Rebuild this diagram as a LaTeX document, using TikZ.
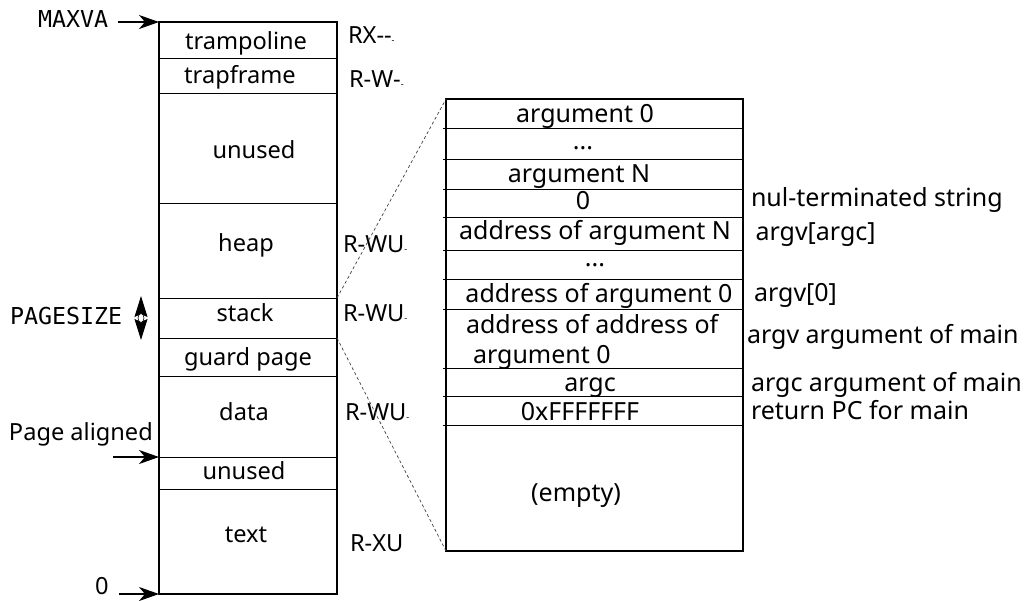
\documentclass[tikz,border=0pt]{standalone}
\usepackage{fontspec}
\setmainfont{Noto Sans}
\setmonofont{DejaVu Sans Mono}
\usetikzlibrary{arrows.meta}
\newcommand{\tinydash}{{\fontsize{9}{9}\selectfont -}}
\begin{document}
\begin{tikzpicture}[x=1pt,y=-1pt,
  every node/.style={inner sep=0pt, outer sep=0pt},
  font=\fontsize{23.6}{28}\selectfont,
  big/.style={font=\fontsize{25}{30}\selectfont},
  txt/.style={anchor=base},
  lbl/.style={anchor=base west},
  boxline/.style={line width=1.3pt},
  divline/.style={line width=0.9pt},
  arr/.style={line width=1.2pt, -{Stealth[length=20pt,width=14pt,inset=6pt]}},
  zoomline/.style={line width=0.7pt, dash pattern=on 3pt off 2.5pt, black!75}]
\useasboundingbox (0,0) rectangle (1024,600);

% left box
\coordinate (LT) at (159,22);
\coordinate (LB) at (159,594);
\coordinate (RB) at (337,594);
\coordinate (PA) at (159,457);
\coordinate (stackTR) at (337,298);
\coordinate (stackBR) at (337,338);
\draw[boxline] (LT) rectangle (RB);
\foreach \y in {58,93,203,298,338,376,457,489}
  \draw[divline] (159,\y) -- (337,\y);

\node[txt] (tramp) at (246,49.5) {trampoline};
\node[txt] (trapf) at (240,83) {trapframe};
\node[txt] (unused1) at (254,158) {unused};
\node[txt] (heap) at (246,251) {heap};
\node[txt] (stack) at (245,321.5) {stack};
\node[txt] (guard) at (248,365) {guard page};
\node[txt] (data) at (244,420.5) {data};
\node[txt] (unused2) at (244,479) {unused};
\node[txt] (text) at (246,542) {text};

% permissions
\node[lbl] (p1) at (348,43) {RX-{}-\tinydash};
\node[lbl] (p2) at (349,87) {R-W-\tinydash};
\node[lbl] (p3) at (343,252) {R-WU\tinydash};
\node[lbl] (p4) at (343,321.5) {R-WU\tinydash};
\node[lbl] (p5) at (345,420.5) {R-WU\tinydash};
\node[lbl] (p6) at (350,551.5) {R-XU};

% left labels
\node[lbl, font=\fontsize{23.3}{28}\selectfont\ttfamily] (maxva) at (38,27) {MAXVA};
\coordinate (maxvaA) at (118,22);
\draw[arr] (maxvaA) -- (LT);

\node[lbl, font=\fontsize{23.3}{28}\selectfont\ttfamily] (pagesize) at (10,324) {PAGESIZE};
\coordinate (psT) at (141,296);
\coordinate (psB) at (141,340);
\draw[line width=1pt, {Stealth[length=21pt,width=13pt,inset=3pt]}-{Stealth[length=21pt,width=13pt,inset=3pt]}] (psT) -- (psB);
\draw[line width=0.6pt, fill=white] (141,318) ellipse [x radius=3pt, y radius=4.5pt];

\node[lbl] (pagealigned) at (9,440) {Page aligned};
\coordinate (paA) at (113,457);
\draw[arr] (paA) -- (PA);

\node[lbl] (zero) at (95,594) {0};
\coordinate (zeroA) at (119,594);
\draw[arr] (zeroA) -- (LB);

% right box
\coordinate (RT) at (446,99);
\coordinate (RBL) at (446,551);
\coordinate (RBR) at (743,551);
\draw[boxline] (RT) rectangle (RBR);
\foreach \y in {128,159,189,217,250,279,309,368,396,425}
  \draw[divline] (443,\y) -- (743,\y);

\begin{scope}[big]
\node[txt] (a0) at (585,122) {argument 0};
\node[txt] (d1) at (583,149) {...};
\node[txt] (aN) at (579,182) {argument N};
\node[txt] (nul) at (583,209) {0};
\node[txt] (adN) at (595,239) {address of argument N};
\node[txt] (d2) at (595,266) {...};
\node[txt] (ad0) at (599,302) {address of argument 0};
\node[lbl] (aad1) at (466,333) {address of address of};
\node[lbl] (aad2) at (473,363) {argument 0};
\node[txt] (argc) at (590,391) {argc};
\node[txt] (ret) at (580,420) {0xFFFFFFF};
\node[txt] (empty) at (576,501.5) {(empty)};

% annotations
\node[lbl] (n1) at (751,206.5) {nul-terminated string};
\node[lbl] (n2) at (755.5,240) {argv[argc]};
\node[lbl] (n3) at (754,301.5) {argv[0]};
\node[lbl] (n4) at (747,343) {argv argument of main};
\node[lbl] (n5) at (751,391.5) {argc argument of main};
\node[lbl] (n6) at (751,419) {return PC for main};
\end{scope}

% zoom lines
\draw[zoomline] (stackTR) -- (RT);
\draw[zoomline] (stackBR) -- (RBL);
\end{tikzpicture}
\end{document}
